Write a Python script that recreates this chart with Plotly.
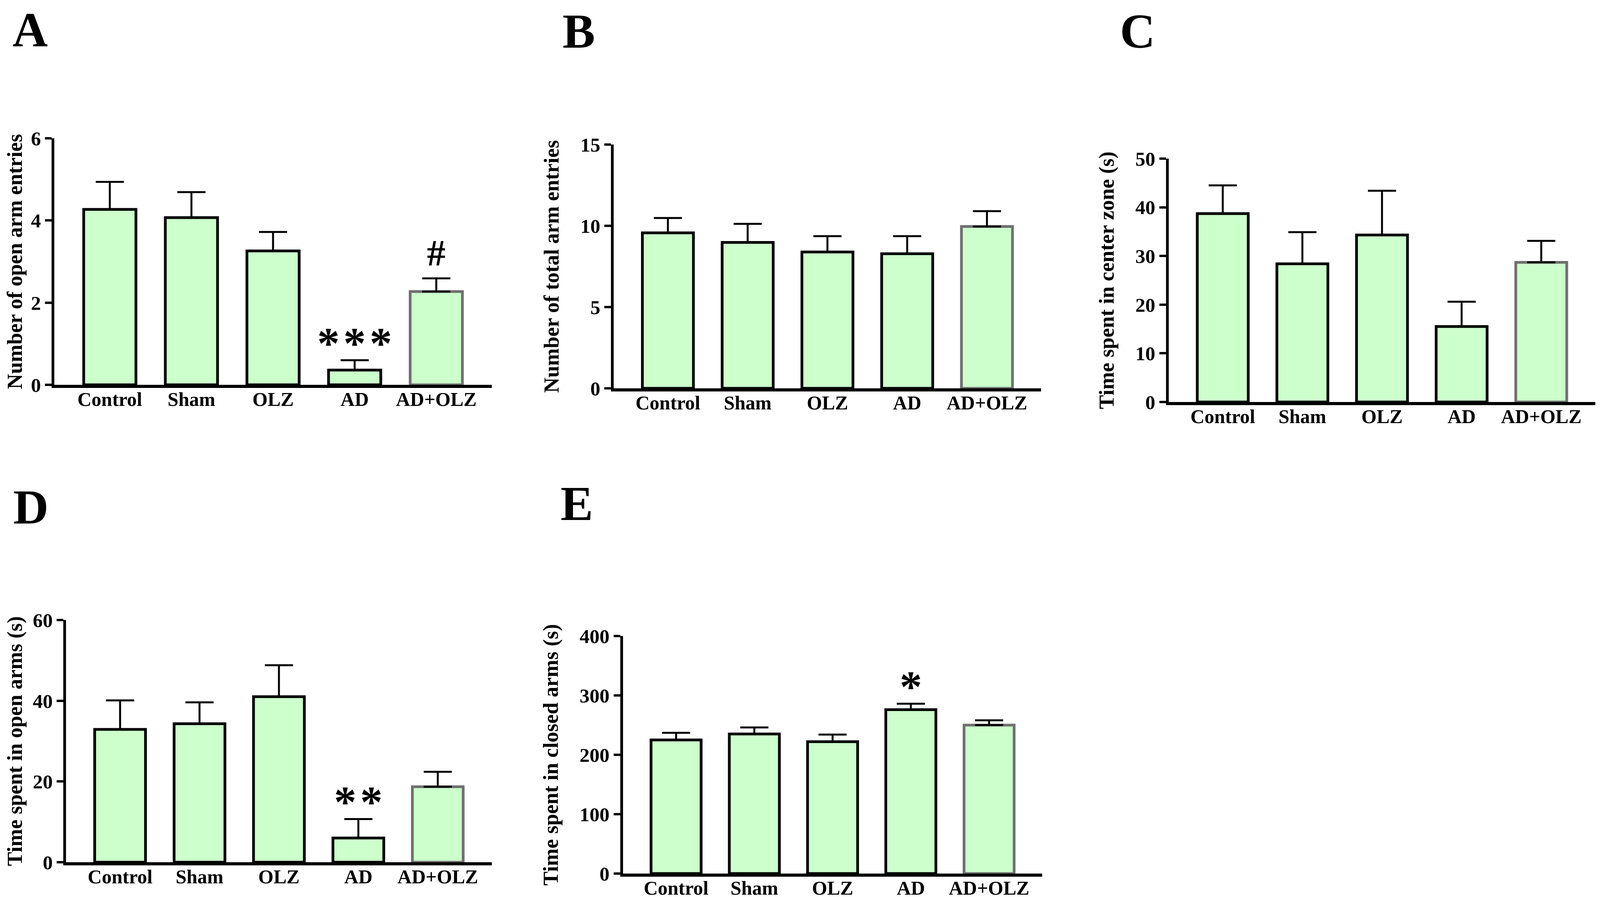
import plotly.graph_objects as go

# group labels shared by every panel
groups = ["Control", "Sham", "OLZ", "AD", "AD+OLZ"]

# A - number of open arm entries (mean, SEM)
open_entries = [4.27, 4.07, 3.26, 0.36, 2.27]
open_entries_sem = [0.67, 0.62, 0.46, 0.24, 0.32]

# B - number of total arm entries
total_entries = [9.57, 8.98, 8.39, 8.28, 9.96]
total_entries_sem = [0.91, 1.14, 0.97, 1.08, 0.94]

# C - time spent in center zone (s)
center_time = [38.7, 28.4, 34.3, 15.5, 28.7]
center_time_sem = [5.8, 6.5, 9.1, 5.1, 4.4]

# D - time spent in open arms (s)
open_time = [32.9, 34.3, 41.0, 6.0, 18.7]
open_time_sem = [7.2, 5.3, 7.8, 4.7, 3.7]

# E - time spent in closed arms (s)
closed_time = [225, 235, 222, 276, 250]
closed_time_sem = [12, 11, 12, 10, 8]

# significance marks: (panel, group, text)
marks = [("A", "AD", "*\u200a*\u200a*"), ("A", "AD+OLZ", "#"),
         ("D", "AD", "*\u200a*"), ("E", "AD", "*")]

# reference canvas size, used to turn pixel positions into paper fractions
W, H = 4328, 2296
FONT = "Liberation Serif"
FILL = "#CCFFCC"
EDGE = ["black", "black", "black", "black", "#707070"]


def px_x(p):
    return p / W


def px_y(p):
    return 1 - p / H


# panel: letter, values, sem, y max, dtick, title, left/right/top/bottom in px, letter pos
panels = [
    ("A", open_entries, open_entries_sem, 6, 2, "Number of open arm entries",
     (139, 1327, 346, 977), (73, 68)),
    ("B", total_entries, total_entries_sem, 15, 5, "Number of total arm entries",
     (1658, 2819, 362, 986), (1563, 72)),
    ("C", center_time, center_time_sem, 50, 10, "Time spent in center zone (s)",
     (3165, 4324, 398, 1021), (3081, 72)),
    ("D", open_time, open_time_sem, 60, 20, "Time spent in open arms (s)",
     (171, 1327, 1579, 2199), (75, 1290)),
    ("E", closed_time, closed_time_sem, 400, 100, "Time spent in closed arms (s)",
     (1683, 2822, 1620, 2228), (1558, 1281)),
]

fig = go.Figure()
annotations = []
axref = {}

for i, (letter, vals, sem, ymax, dtick, title, box, lpos) in enumerate(panels):
    n = "" if i == 0 else str(i + 1)
    xa, ya = "x" + n, "y" + n
    axref[letter] = (xa, ya, vals, sem)
    fig.add_trace(go.Bar(
        x=groups, y=vals, xaxis=xa, yaxis=ya, width=0.64,
        marker=dict(color=FILL, line=dict(color=EDGE, width=7)),
        error_y=dict(type="data", symmetric=False, array=sem, arrayminus=[0] * len(sem),
                     color="black", thickness=5, width=36),
        showlegend=False,
    ))
    left, right, top, bottom = box
    fig.update_layout({
        "xaxis" + n: dict(
            domain=[px_x(left), px_x(right)], anchor=ya, range=[-0.68, 4.68],
            showline=True, linecolor="black", linewidth=8, ticks="",
            showgrid=False, zeroline=False, fixedrange=True, automargin=False,
            ticklabelstandoff=-14,
            tickfont=dict(family=FONT, size=50, color="black", weight="bold"),
        ),
        "yaxis" + n: dict(
            domain=[px_y(bottom), px_y(top)], anchor=xa, range=[0, ymax], dtick=dtick,
            showline=True, linecolor="black", linewidth=7, automargin=False,
            ticks="outside", ticklen=17, tickwidth=6, tickcolor="black",
            showgrid=False, zeroline=False,
            tickfont=dict(family=FONT, size=51, color="black", weight="bold"),
            title=dict(text=title, standoff=40,
                       font=dict(family=FONT, size=54, color="black", weight="bold")),
        ),
    })
    annotations.append(dict(
        text=letter, x=px_x(lpos[0]), y=px_y(lpos[1]), xref="paper", yref="paper",
        xanchor="center", yanchor="middle", showarrow=False,
        font=dict(family=FONT, size=125, color="black", weight="bold"),
    ))

for letter, grp, txt in marks:
    xa, ya, vals, sem = axref[letter]
    k = groups.index(grp)
    is_hash = txt == "#"
    annotations.append(dict(
        text=txt, x=grp, y=vals[k] + sem[k], xref=xa, yref=ya,
        xanchor="center", yanchor="bottom", yshift=10 if is_hash else -22,
        showarrow=False,
        font=dict(family=FONT, size=95 if is_hash else 115, color="black", weight="bold"),
    ))

fig.update_layout(
    autosize=True, margin=dict(l=0, r=0, t=0, b=0),
    paper_bgcolor="white", plot_bgcolor="white",
    annotations=annotations, bargap=0.36,
)

fig.write_html("out.html", default_width="100%", default_height="100vh")
